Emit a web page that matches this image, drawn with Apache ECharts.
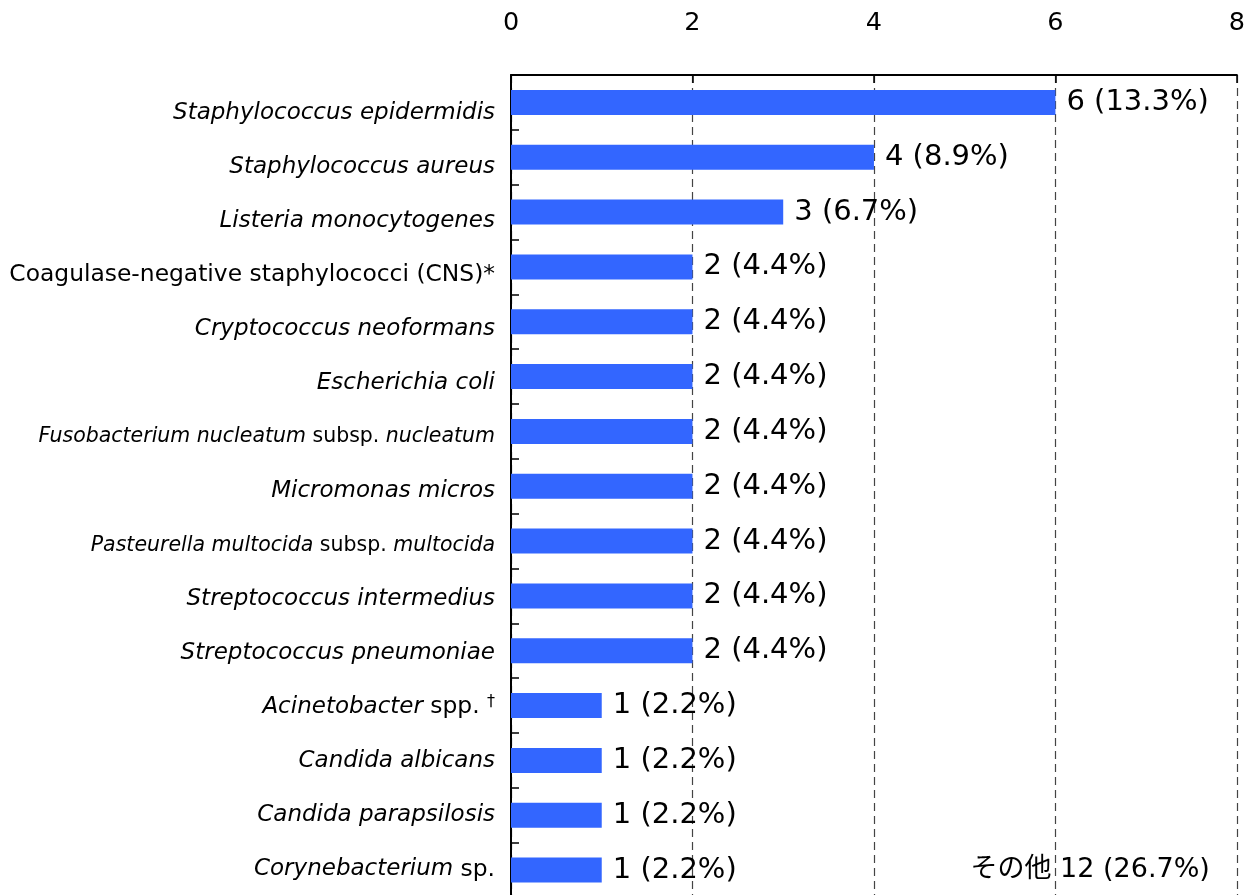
<!DOCTYPE html>
<html>
<head>
<meta charset="utf-8">
<script src="https://cdn.jsdelivr.net/npm/echarts@6/dist/echarts.min.js"></script>
<style>
html,body{margin:0;padding:0;overflow:hidden;background:#fff;width:1248px;height:895px;}
#c{width:1248px;height:900px;}
</style>
</head>
<body>
<div id="c"></div>
<script>
// Category labels (rich-text markup: {i|...} italic, {n|...} normal)
const categories = [
  '{i|Staphylococcus epidermidis}',
  '{i|Staphylococcus aureus}',
  '{i|Listeria monocytogenes}',
  '{n|Coagulase-negative staphylococci (CNS)*}',
  '{i|Cryptococcus neoformans}',
  '{i|Escherichia coli}',
  '{si|Fusobacterium nucleatum }{sn|subsp. }{si|nucleatum}',
  '{i|Micromonas micros}',
  '{si|Pasteurella multocida }{sn|subsp. }{si|multocida}',
  '{i|Streptococcus intermedius}',
  '{i|Streptococcus pneumoniae}',
  '{i|Acinetobacter }{n|spp. }{sup|†}',
  '{i|Candida albicans}',
  '{i|Candida parapsilosis}',
  '{i|Corynebacterium }{n|sp.}'
];
const counts = [6, 4, 3, 2, 2, 2, 2, 2, 2, 2, 2, 1, 1, 1, 1];
const percents = ['13.3', '8.9', '6.7', '4.4', '4.4', '4.4', '4.4', '4.4', '4.4', '4.4', '4.4', '2.2', '2.2', '2.2', '2.2'];
const xTicks = [0, 2, 4, 6, 8];
const otherLabel = 'その他';
const otherCount = 12;
const otherPercent = '26.7';

const FONT = '"DejaVu Sans", Verdana, "Noto Sans CJK JP", sans-serif';
const richStyles = {
  i: {fontSize: 23, fontStyle: 'italic', fontFamily: FONT, color: '#000'},
  n: {fontSize: 23.4, fontFamily: FONT, color: '#000'},
  si: {fontSize: 20.5, fontStyle: 'italic', fontFamily: FONT, color: '#000'},
  sn: {fontSize: 20.5, fontFamily: FONT, color: '#000'},
  sup: {fontSize: 16, fontFamily: FONT, color: '#000', verticalAlign: 'top', padding: [0, 0, 10, 0]}
};
const chart = echarts.init(document.getElementById('c'), null, {renderer: 'canvas'});
chart.setOption({
  animation: false,
  backgroundColor: '#fff',
  grid: [
    {left: 511, right: 10, top: 75, bottom: 2.5, containLabel: false},
    {left: 511, right: 10, top: 85.8, bottom: 3.5, containLabel: false}
  ],
  xAxis: [
    {
      type: 'value', position: 'top', gridIndex: 0,
      min: xTicks[0], max: xTicks[xTicks.length - 1], interval: 2,
      axisLine: {show: true, lineStyle: {color: '#000', width: 2}},
      axisTick: {show: true, inside: true, length: 8, lineStyle: {color: '#000', width: 1.5}},
      axisLabel: {color: '#000', fontSize: 25.5, fontFamily: FONT, margin: 39},
      splitLine: {show: true, lineStyle: {color: '#444', type: [8, 5], width: 1.2}}
    },
    {
      type: 'value', gridIndex: 1, show: false,
      min: xTicks[0], max: xTicks[xTicks.length - 1]
    }
  ],
  yAxis: [
    {
      type: 'category', inverse: true, data: categories, gridIndex: 0,
      axisLine: {show: true, lineStyle: {color: '#000', width: 2}},
      axisTick: {show: true, inside: true, length: 8, lineStyle: {color: '#000', width: 1.5}},
      axisLabel: {show: false},
      splitLine: {show: false}
    },
    {
      type: 'category', inverse: true, data: categories, gridIndex: 1,
      axisLine: {show: false},
      axisTick: {show: false},
      axisLabel: {
        show: true, color: '#000', margin: 16, fontFamily: FONT, fontSize: 23,
        formatter: v => v,
        rich: richStyles
      },
      splitLine: {show: false}
    }
  ],
  series: [
    {
      type: 'bar', data: counts, barWidth: 25, xAxisIndex: 0, yAxisIndex: 0,
      itemStyle: {color: '#3366FF'},
      label: {
        show: true, position: 'right', distance: 11,
        color: '#000', fontSize: 29, fontFamily: FONT,
        formatter: p => p.value + ' (' + percents[p.dataIndex] + '%)'
      }
    },
    {
      type: 'scatter', symbolSize: 0, silent: true, xAxisIndex: 0, yAxisIndex: 0,
      itemStyle: {opacity: 1},
      data: [[xTicks[xTicks.length - 1], categories.length - 1]],
      label: {
        show: true, position: 'left', distance: 27,
        color: '#000', fontSize: 27, fontFamily: FONT, opacity: 1,
        formatter: () => otherLabel + ' ' + otherCount + ' (' + otherPercent + '%)'
      }
    }
  ]
});
</script>
</body>
</html>
